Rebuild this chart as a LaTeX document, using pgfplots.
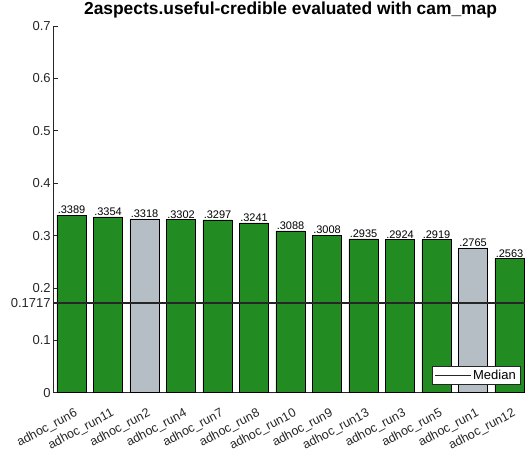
\documentclass[border=0pt]{standalone}
\usepackage{pgfplots}
\pgfplotsset{compat=1.18}
\usepackage{pgfplotstable}
\usepackage{fontspec}
\setmainfont{Liberation Sans}
\definecolor{barg}{RGB}{34,139,34}
\definecolor{bars}{RGB}{180,190,196}
\definecolor{axc}{RGB}{38,38,38}
\pgfplotstableread{
x y lab
1 0.3389 .3389
2 0.3354 .3354
4 0.3302 .3302
5 0.3297 .3297
6 0.3241 .3241
7 0.3088 .3088
8 0.3008 .3008
9 0.2935 .2935
10 0.2924 .2924
11 0.2919 .2919
13 0.2563 .2563
}\greendata
\pgfplotstableread{
x y lab
3 0.3318 .3318
12 0.2765 .2765
}\graydata
\begin{document}
\begin{tikzpicture}[x=1pt,y=1pt]
\path[use as bounding box] (0,0) rectangle (525,455);
\begin{axis}[
  at={(53.3pt,62.3pt)}, anchor=origin,
  scale only axis, width=474.5pt, height=366.7pt,
  xmin=0.5, xmax=13.5, ymin=0, ymax=0.7,
  axis x line=bottom, axis y line=left,
  axis line style={-, draw=axc, line width=0.6pt},
  tick style={draw=axc, line width=0.6pt},
  tick align=inside, major tick length=5pt,
  xtick={1,...,13},
  xticklabels={adhoc\_run6,adhoc\_run11,adhoc\_run2,adhoc\_run4,adhoc\_run7,adhoc\_run8,adhoc\_run10,adhoc\_run9,adhoc\_run13,adhoc\_run3,adhoc\_run5,adhoc\_run1,adhoc\_run12},
  xticklabel style={xshift=5pt, yshift=-20pt, rotate=28, anchor=east, font=\fontsize{12.5}{14}\selectfont, text=axc, inner sep=0pt},
  xticklabel shift=0pt,
  ytick={0,0.1,0.1717,0.2,0.3,0.4,0.5,0.6,0.7},
  yticklabels={0,0.1,0.1717,0.2,0.3,0.4,0.5,0.6,0.7},
  yticklabel style={font=\fontsize{13}{14}\selectfont, text=axc, inner sep=2.5pt},
  title={\bfseries 2aspects.useful-credible evaluated with cam\_map},
  title style={font=\fontsize{17.4}{18}\selectfont, yshift=-2pt},
  legend style={at={(0.9836,0.021)}, anchor=south east, font=\fontsize{13}{14}\selectfont, draw=axc, line width=0.5pt, inner sep=2pt},
  legend image post style={line width=1pt},
  legend cell align=left,
  legend image code/.code={\draw[#1] (0cm,0cm) -- (1.25cm,0cm);},
  nodes near coords, point meta=explicit symbolic,
  every node near coord/.append style={font=\fontsize{11}{12}\selectfont, inner sep=1pt, text=black},
  clip=false,
]
\addplot[ybar, bar width=0.8, bar shift=0pt, fill=barg, draw=black, line width=0.6pt, forget plot] table[x=x,y=y,meta=lab]{\greendata};
\addplot[ybar, bar width=0.8, bar shift=0pt, fill=bars, draw=black, line width=0.6pt, forget plot] table[x=x,y=y,meta=lab]{\graydata};
\addplot[color=axc, line width=1.5pt, nodes near coords=, mark=none] coordinates {(0.5,0.1717) (13.5,0.1717)};
\addlegendentry{Median}
\end{axis}
\end{tikzpicture}
\end{document}
